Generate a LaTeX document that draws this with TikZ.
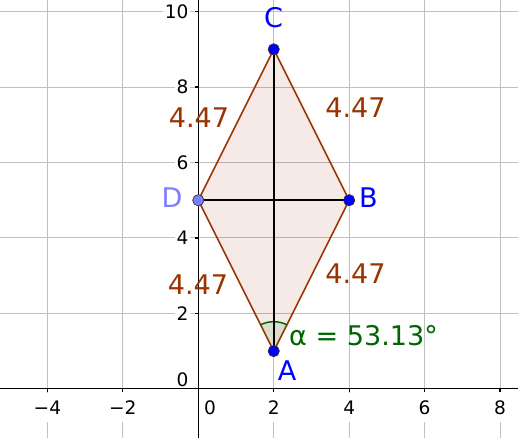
\documentclass[tikz,border=0pt]{standalone}
\usepackage{fontspec}
\setmainfont{DejaVu Sans}
\usetikzlibrary{calc}
\definecolor{gbrown}{RGB}{153,51,0}
\definecolor{gblue}{RGB}{0,0,255}
\definecolor{glight}{RGB}{125,125,255}
\definecolor{ggreen}{RGB}{0,100,0}
\definecolor{ggrid}{RGB}{192,192,192}
\tikzset{
  gridline/.style={ggrid, line width=0.75pt},
  axisline/.style={black, line width=0.9pt},
  ticklabel/.style={fill=white, inner xsep=1.5pt, inner ysep=6pt, font=\fontsize{14}{16}\selectfont},
  yticklabel/.style={fill=white, inner xsep=1.5pt, inner ysep=1pt, font=\fontsize{14}{16}\selectfont, anchor=east},
  edgelabel/.style={text=gbrown, inner sep=0pt, font=\fontsize{20.4}{24}\selectfont},
  ptlabel/.style={inner sep=0pt, font=\fontsize{20.4}{24}\selectfont},
  ptdot/.style={circle, inner sep=0pt, minimum size=0.3cm, draw=black!80, line width=0.5pt},
  polyedge/.style={gbrown, line width=1.2pt},
  segline/.style={black, line width=1.2pt},
}
\begin{document}
\begin{tikzpicture}
\useasboundingbox (-5.257,-1.304) rectangle (8.476,10.308);
% grid
\foreach \x in {-4,-2,2,4,6,8} \draw[gridline] (\x,-1.304) -- (\x,10.308);
\foreach \y in {2,4,6,8,10} \draw[gridline] (-5.257,\y) -- (8.476,\y);
% axes
\draw[axisline] (-5.257,0) -- (8.476,0);
\draw[axisline] (0,-1.304) -- (0,10.308);
\foreach \x in {-4,-2,2,4,6,8} \draw[axisline] (\x,0) -- (\x,-0.09);
\foreach \y in {2,4,6,8,10} \draw[axisline] (0,\y) -- (-0.09,\y);
% tick labels
\foreach \x/\t in {-4/−4,-2/−2,2/2,4/4,6/6,8/8}
  \node[ticklabel] (xl\x) at (\x,-0.49) {\t};
\node[ticklabel] (xl0) at (0.31,-0.49) {0};
\foreach \y in {2,4,6,8,10}
  \node[yticklabel] (yl\y) at (-0.2,\y) {\y};
\node[yticklabel] (yl0) at (-0.2,0.23) {0};
% points
\coordinate (a) at (2,1);
\coordinate (b) at (4,5);
\coordinate (c) at (2,9);
\coordinate (d) at (0,5);
% polygon
\fill[gbrown, fill opacity=0.1] (a) -- (b) -- (c) -- (d) -- cycle;
\draw[polyedge] (a) -- (b);
\draw[polyedge] (b) -- (c);
\draw[polyedge] (c) -- (d);
\draw[polyedge] (d) -- (a);
% angle
\fill[ggreen, fill opacity=0.1] (a) -- ++(63.435:0.78) arc[start angle=63.435, end angle=116.565, radius=0.78] -- cycle;
\draw[ggreen, line width=1.1pt] ($(a)+(63.435:0.78)$) arc[start angle=63.435, end angle=116.565, radius=0.78];
% segments
\draw[segline] (a) -- (c);
\draw[segline] (d) -- (b);
% point dots
\node[ptdot, fill=gblue] (A) at (a) {};
\node[ptdot, fill=gblue] (B) at (b) {};
\node[ptdot, fill=gblue] (C) at (c) {};
\node[ptdot, fill=glight] (D) at (d) {};
% point labels
\node[ptlabel, text=gblue] (Al) at (2.352,0.472) {A};
\node[ptlabel, text=gblue] (Bl) at (4.512,5.058) {B};
\node[ptlabel, text=gblue] (Cl) at (1.994,9.844) {C};
\node[ptlabel, text=glight] (Dl) at (-0.697,5.072) {D};
% edge labels
\node[edgelabel] (lcd) at (0.019,7.193) {4.47};
\node[edgelabel] (lbc) at (4.168,7.444) {4.47};
\node[edgelabel] (lda) at (-0.008,2.752) {4.47};
\node[edgelabel] (lab) at (4.168,3.043) {4.47};
% angle label
\node[edgelabel, text=ggreen] (alpha) at (4.38,1.40) {α = 53.13°};
\end{tikzpicture}
\end{document}
